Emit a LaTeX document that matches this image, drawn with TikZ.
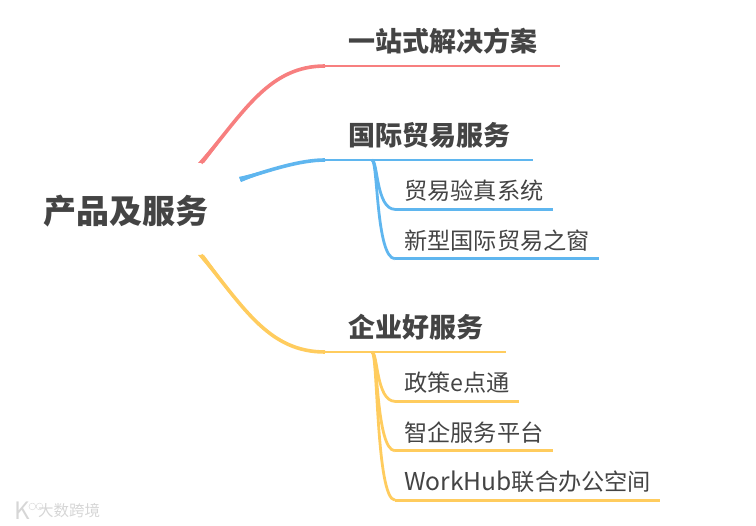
\documentclass[tikz,border=0pt]{standalone}
\usepackage{fontspec}
\setmainfont{Noto Sans CJK SC}
\usetikzlibrary{positioning,calc}
\definecolor{redline}{HTML}{F77F7F}
\definecolor{blueline}{HTML}{5FB6EF}
\definecolor{yellowline}{HTML}{FFCC5E}
\definecolor{textgrey}{HTML}{444444}
% tapered branch: colour, start, control, control, end, half width
\newcommand{\mainbranch}[6]{
  \fill[#1] ($(#2)+(#6)$) .. controls (#3) and (#4) .. (#5) .. controls (#4) and (#3) .. ($(#2)-(#6)$) -- cycle;
  \draw[#1,line width=3.6pt] (#2) .. controls (#3) and (#4) .. (#5);
}
\begin{document}
\begin{tikzpicture}[x=1pt,y=-1pt]
    \tikzset{
      rootnode/.style={inner sep=0pt,text=textgrey,font=\fontsize{33}{33}\selectfont\bfseries},
      titlenode/.style={anchor=south west,inner ysep=0pt,inner xsep=23pt,text height=24pt,text depth=14pt,text=textgrey,font=\fontsize{27}{27}\selectfont\bfseries},
      subnode/.style={inner ysep=0pt,inner xsep=9pt,text height=30.5pt,text depth=9.5pt,text=textgrey,font=\fontsize{23.2}{23.2}\selectfont},
      underline/.style={line width=2.8pt},
      markgrey/.style={text=black!16,draw=none},
    }
    \useasboundingbox (0,0) rectangle (756,526);
    \node[rootnode](root) at (126,211){产品及服务};
    \node[titlenode](solution) at (325,66){一站式解决方案};
    \node[titlenode](trade) at (325,160){国际贸易服务};
    \node[titlenode](firm) at (325,352){企业好服务};

    \node[subnode,below=9pt of trade.south west,anchor=north west,xshift=70pt](verify){贸易验真系统};
    \node[subnode,below=9pt of verify.south west,anchor=north west](window){新型国际贸易之窗};
    \node[subnode,below=9pt of firm.south west,anchor=north west,xshift=70pt](policy){政策e点通};
    \node[subnode,below=9pt of policy.south west,anchor=north west](smart){智企服务平台};
    \node[subnode,below=9pt of smart.south west,anchor=north west](workhub){{\fontsize{24.6}{24.6}\selectfont WorkHub}联合办公空间};

    \coordinate (rootred) at ($(root)+(75,-48)$);
    \coordinate (rootblue) at ($(root)+(114,-31.5)$);
    \coordinate (rootyellow) at ($(root)+(75,44)$);
    \coordinate (tradefork) at ($(trade.south west)+(47,0)$);
    \coordinate (firmfork) at ($(firm.south west)+(47,0)$);

    \mainbranch{redline}{rootred}{245,110}{270,66}{solution.south west}{3,0}
    \mainbranch{blueline}{rootblue}{270,170}{300,160}{trade.south west}{1,2.6}
    \mainbranch{yellowline}{rootyellow}{245,310}{270,352}{firm.south west}{3,0}

    \draw[redline,underline](solution.south west) -- (solution.south east);
    \draw[blueline,underline](trade.south west) -- (trade.south east);
    \draw[yellowline,underline](firm.south west) -- (firm.south east);
    \draw[blueline,underline](verify.south west) -- (verify.south east);
    \draw[blueline,underline](window.south west) -- (window.south east);
    \draw[yellowline,underline](policy.south west) -- (policy.south east);
    \draw[yellowline,underline](smart.south west) -- (smart.south east);
    \draw[yellowline,underline](workhub.south west) -- (workhub.south east);

    \draw[blueline,underline](tradefork) .. controls (378,161) and (376,209) .. (verify.south west);
    \draw[blueline,underline](tradefork) .. controls (378,161) and (376,258) .. (window.south west);
    \draw[yellowline,underline](firmfork) .. controls (378,353) and (376,401) .. (policy.south west);
    \draw[yellowline,underline](firmfork) .. controls (378,353) and (376,450) .. (smart.south west);
    \draw[yellowline,underline](firmfork) .. controls (378,353) and (376,499) .. (workhub.south west);

    % watermark
    \node[markgrey,inner sep=0pt,font=\fontsize{15.5}{15.5}\selectfont](markname) at (69,511){大数跨境};
    \node[markgrey,inner sep=0pt,left=8pt of markname,font=\fontsize{24}{24}\selectfont](markk){K};
    \node[circle,draw=black!16,inner sep=2.4pt,above right=-7pt and 0pt of markk](markring){};
    \node[circle,draw=black!16,inner sep=2.4pt,right=0pt of markring](markringb){};
\end{tikzpicture}
\end{document}
